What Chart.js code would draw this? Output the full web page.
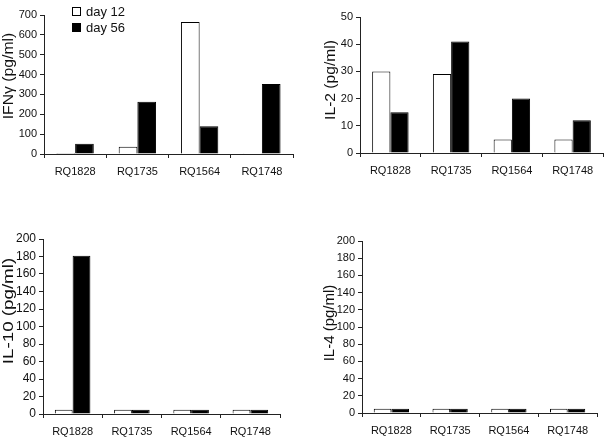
<!DOCTYPE html>
<html>
<head>
<meta charset="utf-8">
<script src="https://cdn.jsdelivr.net/npm/chart.js@4.4.1/dist/chart.umd.min.js"></script>
<style>
  html, body { margin: 0; padding: 0; background: #fff; }
  #wrap { position: relative; width: 610px; height: 440px; overflow: hidden; }
  canvas { position: absolute; }
</style>
</head>
<body>
<div id="wrap">
  <canvas id="c1" width="305" height="200" style="left:0;top:0"></canvas>
  <canvas id="c2" width="305" height="200" style="left:305px;top:0"></canvas>
  <canvas id="c3" width="305" height="220" style="left:0;top:220px"></canvas>
  <canvas id="c4" width="305" height="220" style="left:305px;top:220px"></canvas>
</div>
<script>
// ---- data ----
const categories = ["RQ1828", "RQ1735", "RQ1564", "RQ1748"];
const seriesLabels = ["day 12", "day 56"];

const ifnDay12  = [5, 37, 665, 4];
const ifnDay56  = [52, 263, 140, 352];
const il2Day12  = [30, 29, 5, 5];
const il2Day56  = [15, 41, 20, 12];
const il10Day12 = [5, 5, 5, 5];
const il10Day56 = [181, 5, 5, 5];
const il4Day12  = [5, 5, 5, 5];
const il4Day56  = [5, 5, 5, 5];

const FONT = '"Liberation Sans", Arial, Helvetica, sans-serif';
Chart.defaults.font.family = FONT;
Chart.defaults.color = "#111";

// rotated y title drawn at a fixed spot (stretch = along-text scale)
const sideTitle = {
  id: "sideTitle",
  afterDraw(chart, args, o) {
    if (!o || !o.text) return;
    const ctx = chart.ctx;
    ctx.save();
    ctx.translate(o.x, o.y);
    ctx.rotate(-Math.PI / 2);
    ctx.scale(o.stretch || 1, 1);
    ctx.font = o.size + "px " + FONT;
    ctx.fillStyle = "#111";
    ctx.textAlign = "center";
    ctx.textBaseline = "middle";
    ctx.fillText(o.text, 0, 0);
    ctx.restore();
  }
};

// little stacked legend (top panel only)
const boxLegend = {
  id: "boxLegend",
  afterDraw(chart, args, o) {
    if (!o || !o.show) return;
    const ctx = chart.ctx;
    ctx.save();
    ctx.font = o.size + "px " + FONT;
    ctx.textBaseline = "middle";
    chart.data.datasets.forEach((ds, i) => {
      const y = o.y + i * o.step;
      ctx.fillStyle = ds.backgroundColor;
      ctx.fillRect(o.x, y, o.box, o.box);
      ctx.strokeStyle = ds.borderColor;
      ctx.lineWidth = 1;
      ctx.strokeRect(o.x + 0.5, y + 0.5, o.box - 1, o.box - 1);
      ctx.fillStyle = "#111";
      ctx.fillText(ds.label, o.x + o.box + 5, y + o.box / 2 + 0.5);
    });
    ctx.restore();
  }
};

function panel(id, d12, d56, yMax, yStep, area, title, tickSize, legend) {
  const cv = document.getElementById(id);
  const W = cv.width, H = cv.height;
  const axisGrid = { display: true, drawOnChartArea: false, drawTicks: true, tickLength: 4, color: "#222", lineWidth: 1 };
  new Chart(cv, {
    type: "bar",
    data: {
      labels: categories,
      datasets: [
        { label: seriesLabels[0], data: d12, backgroundColor: "#fff", borderColor: "#000", borderWidth: 1 },
        { label: seriesLabels[1], data: d56, backgroundColor: "#000", borderColor: "#000", borderWidth: 1 }
      ]
    },
    options: {
      responsive: false,
      animation: false,
      barPercentage: 1,
      categoryPercentage: 0.6,
      layout: { padding: { left: 0, top: area.t, right: W - area.r, bottom: 0 } },
      plugins: {
        legend: { display: false },
        tooltip: { enabled: false },
        sideTitle: title,
        boxLegend: legend || { show: false }
      },
      scales: {
        x: {
          grid: Object.assign({ offset: true }, axisGrid),
          border: { display: true, color: "#222", width: 1 },
          ticks: { font: { size: 11 }, color: "#111", padding: 7, maxRotation: 0, autoSkip: false },
          afterFit: s => { s.height = H - area.b; }
        },
        y: {
          min: 0, max: yMax,
          grid: axisGrid,
          border: { display: true, color: "#222", width: 1 },
          ticks: { stepSize: yStep, font: { size: tickSize }, color: "#111", padding: 3 },
          afterFit: s => { s.width = area.l; }
        }
      }
    },
    plugins: [sideTitle, boxLegend]
  });
}

panel("c1", ifnDay12, ifnDay56, 700, 100,
  { l: 44, t: 15, r: 293, b: 154 },
  { text: "IFNγ (pg/ml)", x: 9, y: 76, size: 15, stretch: 1.05 }, 11,
  { show: true, x: 72, y: 7, box: 9, step: 16, size: 13 });

panel("c2", il2Day12, il2Day56, 50, 10,
  { l: 55, t: 17, r: 298, b: 153 },
  { text: "IL-2 (pg/ml)", x: 26, y: 80, size: 15, stretch: 1.04 }, 11);

panel("c3", il10Day12, il10Day56, 200, 20,
  { l: 43, t: 19, r: 280, b: 194 },
  { text: "IL-10 (pg/ml)", x: 9, y: 91, size: 15, stretch: 1.25 }, 12);

panel("c4", il4Day12, il4Day56, 200, 20,
  { l: 57, t: 21, r: 292, b: 193 },
  { text: "IL-4 (pg/ml)", x: 25, y: 103, size: 15 }, 11);
</script>
</body>
</html>
